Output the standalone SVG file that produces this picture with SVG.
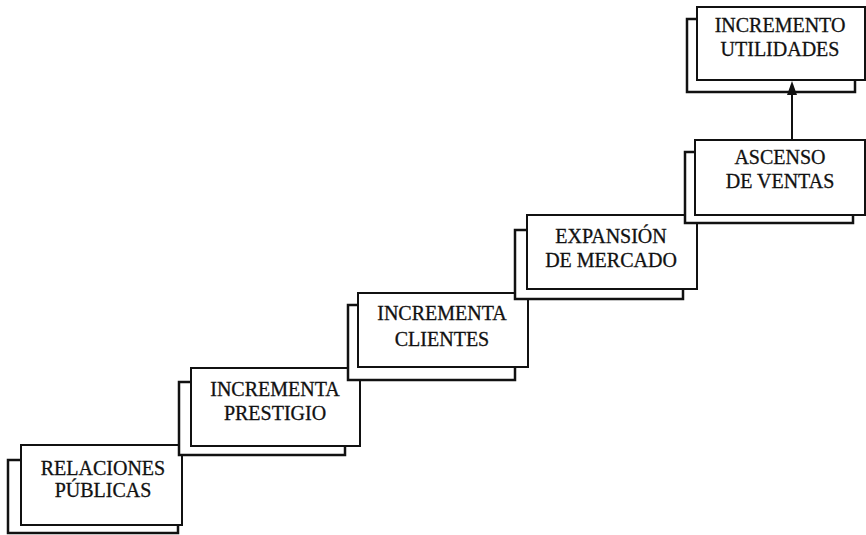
<svg xmlns="http://www.w3.org/2000/svg" width="866" height="535" viewBox="0 0 866 535">
  <style>
    .shadow { fill: #ffffff; stroke: #111111; stroke-width: 2.5; }
    .box { fill: #ffffff; stroke: #111111; stroke-width: 2; }
    .label { font-family: "Liberation Serif", "Times New Roman", serif; font-size: 20px; fill: #111111; stroke: #111111; stroke-width: 0.3; text-anchor: middle; }
    .link { stroke: #111111; stroke-width: 2; fill: none; }
    .head { fill: #111111; }
  </style>
  <rect width="866" height="535" fill="#ffffff"/>

  <!-- step 1 -->
  <g id="relaciones-publicas">
    <rect class="shadow" x="8" y="460" width="170" height="73"/>
    <rect class="box" x="21" y="445" width="161" height="80"/>
    <text class="label" x="103" y="475">RELACIONES</text>
    <text class="label" x="103" y="497">PÚBLICAS</text>
  </g>

  <!-- step 2 -->
  <g id="incrementa-prestigio">
    <rect class="shadow" x="179" y="382" width="166" height="73"/>
    <rect class="box" x="191" y="368" width="169" height="78"/>
    <text class="label" x="275" y="396">INCREMENTA</text>
    <text class="label" x="275" y="420">PRESTIGIO</text>
  </g>

  <!-- step 3 -->
  <g id="incrementa-clientes">
    <rect class="shadow" x="348" y="305" width="167" height="75"/>
    <rect class="box" x="358" y="293" width="170" height="74"/>
    <text class="label" x="442" y="320">INCREMENTA</text>
    <text class="label" x="442" y="346">CLIENTES</text>
  </g>

  <!-- step 4 -->
  <g id="expansion-mercado">
    <rect class="shadow" x="515" y="230" width="168" height="69"/>
    <rect class="box" x="527" y="215" width="170" height="74"/>
    <text class="label" x="611" y="243">EXPANSIÓN</text>
    <text class="label" x="611" y="267">DE MERCADO</text>
  </g>

  <!-- step 5 -->
  <g id="ascenso-ventas">
    <rect class="shadow" x="685" y="152" width="168" height="71"/>
    <rect class="box" x="695" y="140" width="170" height="75"/>
    <text class="label" x="780" y="164">ASCENSO</text>
    <text class="label" x="780" y="188">DE VENTAS</text>
  </g>

  <!-- step 6 -->
  <g id="incremento-utilidades">
    <rect class="shadow" x="687" y="19" width="168" height="73"/>
    <rect class="box" x="697" y="7" width="168" height="73"/>
    <text class="label" x="780" y="32">INCREMENTO</text>
    <text class="label" x="780" y="56">UTILIDADES</text>
  </g>

  <!-- connectors -->
  <g id="connectors">
    <line class="link" x1="792" y1="140" x2="792" y2="92"/>
    <polygon class="head" points="792,81 797,95 787,95"/>
  </g>
</svg>
